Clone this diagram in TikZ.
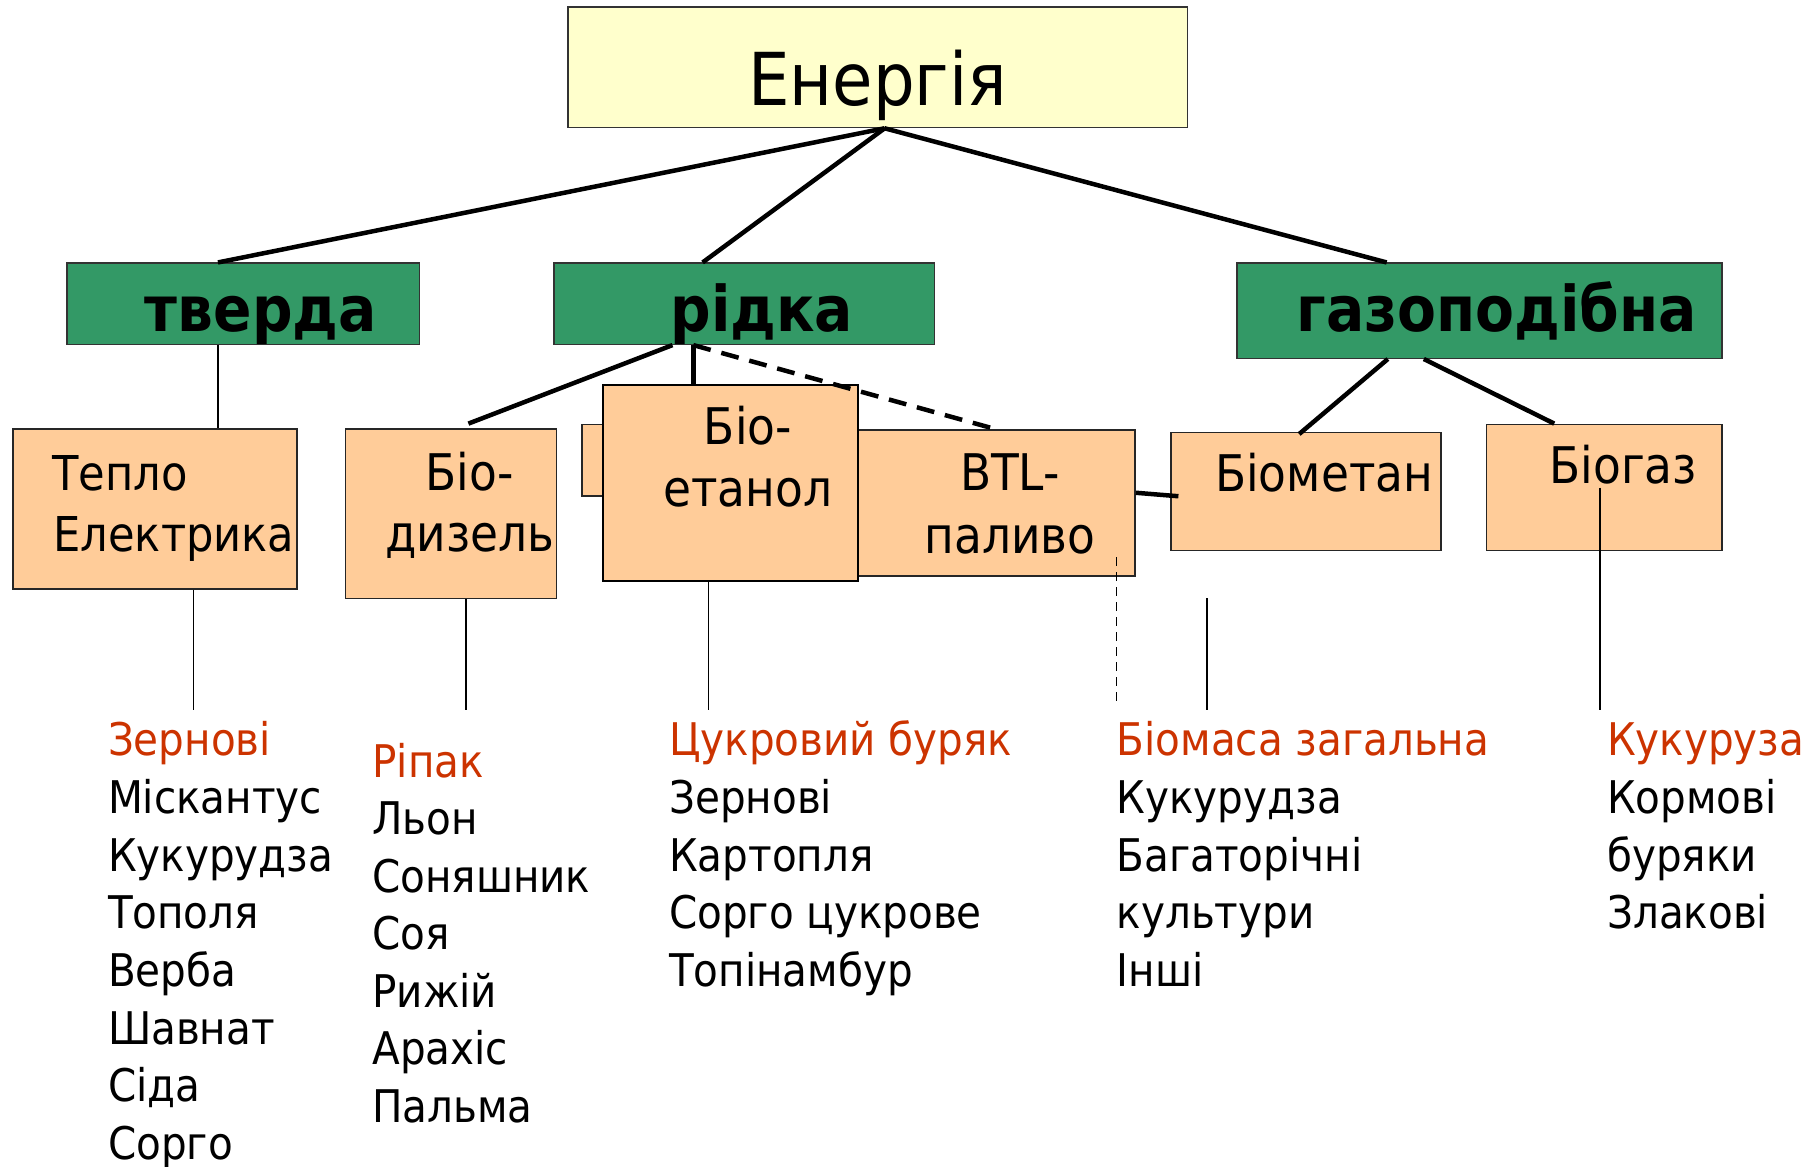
\documentclass[tikz,border=0pt]{standalone}
\usepackage{fontspec}
\setmainfont{DejaVu Sans Condensed}
\usetikzlibrary{calc,fit}
\definecolor{engyellow}{HTML}{FFFFCC}
\definecolor{kindgreen}{HTML}{339966}
\definecolor{fuelpeach}{HTML}{FFCC99}
\definecolor{cropred}{HTML}{CC3300}
\tikzset{
	topbox/.style={draw=black!80, line width=1.5pt, fill=engyellow, inner sep=0pt},
	kindbox/.style={draw=black!80, line width=1.5pt, fill=kindgreen, inner sep=0pt},
	fuelbox/.style={draw=black!85, line width=1.5pt, fill=fuelpeach, inner sep=0pt},
	boxtext/.style={inner sep=0pt, anchor=base, font=\fontsize{50.5}{56}\selectfont},
	kindtext/.style={inner sep=0pt, anchor=base, font=\bfseries\fontsize{63}{68}\selectfont},
	croptext/.style={inner sep=0pt, anchor=base west, font=\fontsize{45}{50}\selectfont},
	headcrop/.style={croptext, text=cropred},
	thicklink/.style={line width=4.5pt},
	thinlink/.style={line width=1.3pt},
}

\begin{document}
\begin{tikzpicture}[x=1.1594pt, y=-1.1594pt]
		%%%%% START %%%%%
		\useasboundingbox (0,0) rectangle (1568,1006);
		
		\node[topbox, fit={(490,6) (1024,110)}] (energy) {};
		\node[boxtext, font=\fontsize{73}{80}\selectfont] (energy-t) at (757,91) {Енергія};
		
		\node[kindbox, fit={(58,227) (362,297)}] (tverda) {};
		\node[kindtext] (tverda-t) at (225,286) {тверда};
		\node[kindbox, fit={(478,227) (806,297)}] (ridka) {};
		\node[kindtext] (ridka-t) at (657,286) {рідка};
		\node[kindbox, fit={(1067,227) (1485,309)}] (gaz) {};
		\node[kindtext] (gaz-t) at (1291,286) {газоподібна};
		
		\node[fuelbox, fit={(11,370) (256,508)}] (teplo) {};
		\node[boxtext, anchor=base west, font=\fontsize{48}{54}\selectfont] (teplo-t1) at (45,423) {Тепло};
		\node[boxtext, anchor=base west, font=\fontsize{48}{54}\selectfont] (teplo-t2) at (46,476) {Електрика};
		
		\node[fuelbox, fit={(298,370) (480,516)}] (biodiz) {};
		\node[boxtext] (biodiz-t1) at (405,423) {Біо-};
		\node[boxtext] (biodiz-t2) at (405,476) {дизель};
		
		\node[fuelbox, fit={(502,366) (620,428)}] (hidden) {};
		\node[fuelbox, fit={(740,371) (979,497)}] (btl) {};
		\node[boxtext] (btl-t1) at (871,423) {BTL-};
		\node[boxtext] (btl-t2) at (871,477) {паливо};
		\node[fuelbox, line width=2.5pt, draw=black, fit={(520,332) (740,501)}] (etanol) {};
		\node[boxtext] (etanol-t1) at (645,383) {Біо-};
		\node[boxtext] (etanol-t2) at (645,437) {етанол};
		
		\node[fuelbox, fit={(1010,373) (1243,475)}] (biomet) {};
		\node[boxtext] (biomet-t) at (1142,424) {Біометан};
		\node[fuelbox, fit={(1282,366) (1485,475)}] (biogaz) {};
		\node[boxtext] (biogaz-t) at (1400,417) {Біогаз};
		
		% top links
		\coordinate (en-out) at ($(energy.south)+(6,0)$);
		\draw[thicklink] (en-out) -- ($(tverda.north)+(-22,0)$);
		\draw[thicklink] (en-out) -- ($(ridka.north)+(-36,0)$);
		\draw[thicklink] (en-out) -- ($(gaz.north)+(-80,0)$);
		
		\coordinate (tv-out) at ($(tverda.south)+(-22,0)$);
		\draw[line width=2pt] (tv-out) -- (tv-out |- teplo.north);
		
		\coordinate (rd-out1) at ($(ridka.south)+(-62,0)$);
		\coordinate (rd-out2) at ($(ridka.south)+(-44,0)$);
		\draw[thicklink] (rd-out1) -- ($(biodiz.north)+(15,-4)$);
		\draw[thicklink] (rd-out2) -- (rd-out2 |- etanol.north);
		\draw[thicklink, dash pattern=on 18pt off 11pt] (rd-out2) -- (btl.north);
		
		\draw[thicklink] ($(gaz.south)+(-79,0)$) -- ($(biomet.north)+(-6,2)$);
		\draw[thicklink] ($(gaz.south)+(-48,0)$) -- ($(biogaz.north)+(-43,0)$);
		\draw[thicklink] ($(btl.east)+(0,-9)$) -- ($(biomet.west)+(7,4)$);
		
		% links down to crops
		\coordinate (teplo-end) at (167,612);
		\coordinate (biodiz-end) at (402,612);
		\coordinate (etanol-end) at (611,612);
		\coordinate (btl-end) at (963,608);
		\coordinate (biomet-top) at (1041,516);
		\coordinate (biomet-end) at (1041,612);
		\coordinate (biogaz-end) at (1380,612);
		\draw[thinlink] (teplo-end |- teplo.south) -- (teplo-end);
		\draw[thinlink] (biodiz-end |- biodiz.south) -- (biodiz-end);
		\draw[thinlink] (etanol-end |- etanol.south) -- (etanol-end);
		\draw[thinlink, dash pattern=on 9pt off 6pt] ($(btl-end |- btl.south)+(0,-17)$) -- (btl-end);
		\draw[thinlink] (biomet-top) -- (biomet-end);
		\draw[thinlink] (biogaz-end |- biogaz.center) -- (biogaz-end);
		
		% crops
		\node[headcrop] (c1-0) at (93,652) {Зернові};
		\node[croptext] (c1-1) at (93,702) {Міскантус};
		\node[croptext] (c1-2) at (93,752) {Кукурудза};
		\node[croptext] (c1-3) at (93,801) {Тополя};
		\node[croptext] (c1-4) at (93,851) {Верба};
		\node[croptext] (c1-5) at (93,901) {Шавнат};
		\node[croptext] (c1-6) at (93,950) {Сіда};
		\node[croptext] (c1-7) at (93,1000) {Сорго};
		
		\node[headcrop] (c2-0) at (321,671) {Ріпак};
		\node[croptext] (c2-1) at (321,720) {Льон};
		\node[croptext] (c2-2) at (321,770) {Соняшник};
		\node[croptext] (c2-3) at (321,819) {Соя};
		\node[croptext] (c2-4) at (321,869) {Рижій};
		\node[croptext] (c2-5) at (321,918) {Арахіс};
		\node[croptext] (c2-6) at (321,968) {Пальма};
		
		\node[headcrop] (c3-0) at (577,652) {Цукровий буряк};
		\node[croptext] (c3-1) at (577,702) {Зернові};
		\node[croptext] (c3-2) at (577,752) {Картопля};
		\node[croptext] (c3-3) at (577,801) {Сорго цукрове};
		\node[croptext] (c3-4) at (577,851) {Топінамбур};
		
		\node[headcrop] (c4-0) at (963,652) {Біомаса загальна};
		\node[croptext] (c4-1) at (963,702) {Кукурудза};
		\node[croptext] (c4-2) at (963,752) {Багаторічні};
		\node[croptext] (c4-3) at (963,801) {культури};
		\node[croptext] (c4-4) at (963,851) {Інші};
		
		\node[headcrop] (c5-0) at (1386,652) {Кукуруза};
		\node[croptext] (c5-1) at (1386,702) {Кормові};
		\node[croptext] (c5-2) at (1386,752) {буряки};
		\node[croptext] (c5-3) at (1386,801) {Злакові};
		%%%%% END %%%%%
\end{tikzpicture}
\end{document}
